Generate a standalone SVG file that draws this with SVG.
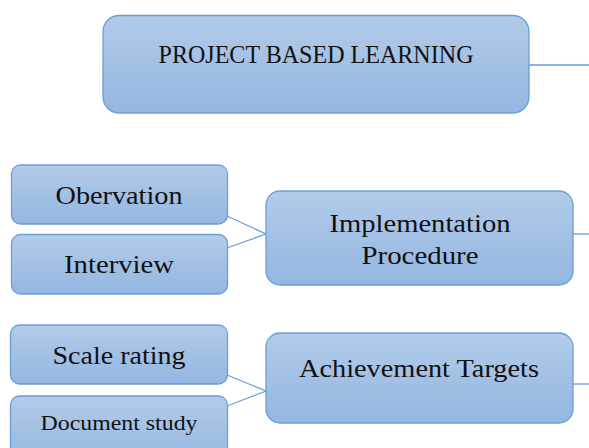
<svg xmlns="http://www.w3.org/2000/svg" width="589" height="448" viewBox="0 0 589 448">
  <defs>
    <linearGradient id="fill" x1="0" y1="0" x2="0" y2="1">
      <stop offset="0" stop-color="#b2cbe9"/>
      <stop offset="1" stop-color="#94b6e1"/>
    </linearGradient>
    <style>
      .box { fill: url(#fill); stroke: #6a9ed6; stroke-width: 1.3; }
      .link { stroke: #6a9ed6; stroke-width: 1.3; fill: none; }
      text { font-family: "Liberation Serif", "DejaVu Serif", serif; fill: #111; text-anchor: middle; }
      .big { font-size: 26px; }
      .small { font-size: 22px; }
    </style>
  </defs>
  <rect width="589" height="448" fill="#ffffff"/>

  <g id="connectors">
    <line class="link" x1="529" y1="65" x2="589" y2="65"/>
    <polyline class="link" points="227,216 266,234 227,248"/>
    <line class="link" x1="573" y1="234" x2="589" y2="234"/>
    <polyline class="link" points="227,375 266,391 227,406"/>
    <line class="link" x1="573" y1="384" x2="589" y2="384"/>
  </g>

  <g id="project-based-learning">
    <rect class="box" x="103" y="15.5" width="426" height="97.5" rx="16"/>
    <text class="big" x="316" y="62.5" textLength="315" lengthAdjust="spacingAndGlyphs">PROJECT BASED LEARNING</text>
  </g>

  <g id="obervation">
    <rect class="box" x="11.5" y="165" width="216" height="59" rx="9"/>
    <text class="big" x="119" y="204" textLength="127" lengthAdjust="spacingAndGlyphs">Obervation</text>
  </g>

  <g id="interview">
    <rect class="box" x="11.5" y="234.5" width="216" height="59.5" rx="9"/>
    <text class="big" x="119" y="273" textLength="110" lengthAdjust="spacingAndGlyphs">Interview</text>
  </g>

  <g id="implementation-procedure">
    <rect class="box" x="266" y="191" width="307" height="94" rx="14"/>
    <text class="big" x="420" y="232" textLength="181" lengthAdjust="spacingAndGlyphs">Implementation</text>
    <text class="big" x="420" y="264" textLength="117" lengthAdjust="spacingAndGlyphs">Procedure</text>
  </g>

  <g id="scale-rating">
    <rect class="box" x="10.5" y="325" width="217" height="59" rx="9"/>
    <text class="big" x="119" y="364" textLength="133" lengthAdjust="spacingAndGlyphs">Scale rating</text>
  </g>

  <g id="document-study">
    <rect class="box" x="10.5" y="396" width="217" height="70" rx="9"/>
    <text class="small" x="119" y="430" textLength="157" lengthAdjust="spacingAndGlyphs">Document study</text>
  </g>

  <g id="achievement-targets">
    <rect class="box" x="266" y="333" width="307" height="90" rx="14"/>
    <text class="big" x="419" y="377" textLength="240" lengthAdjust="spacingAndGlyphs">Achievement Targets</text>
  </g>
</svg>
